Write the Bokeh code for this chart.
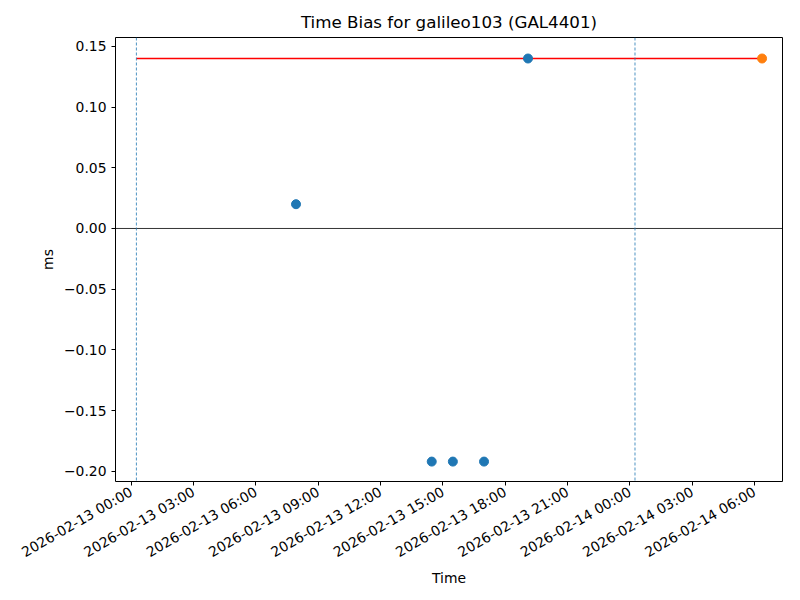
import math
import pandas as pd
from bokeh.plotting import figure
from bokeh.models import Span, FixedTicker, DatetimeTickFormatter, Range1d, ColumnDataSource
from bokeh.embed import file_html
from bokeh.resources import INLINE

# data
blue_times = ["2026-02-13 07:56", "2026-02-13 14:28", "2026-02-13 15:29", "2026-02-13 16:59", "2026-02-13 19:06"]
blue_values = [0.02, -0.192, -0.192, -0.192, 0.14]
orange_times = ["2026-02-14 06:22"]
orange_values = [0.14]
threshold = 0.14
threshold_start = "2026-02-13 00:15"
threshold_end = "2026-02-14 06:22"
vline_times = ["2026-02-13 00:15", "2026-02-14 00:15"]
x_ticks = ["2026-02-13 00:00", "2026-02-13 03:00", "2026-02-13 06:00", "2026-02-13 09:00",
           "2026-02-13 12:00", "2026-02-13 15:00", "2026-02-13 18:00", "2026-02-13 21:00",
           "2026-02-14 00:00", "2026-02-14 03:00", "2026-02-14 06:00"]
y_ticks = [-0.20, -0.15, -0.10, -0.05, 0.00, 0.05, 0.10, 0.15]
x_limits = ["2026-02-12 23:14:40", "2026-02-14 07:21"]
y_limits = [-0.2084, 0.1573]

def ms(t):
    return pd.Timestamp(t).value / 1e6

FONT = "DejaVu Sans"

p = figure(x_axis_type="datetime", output_backend="svg", toolbar_location=None,
           frame_width=667, frame_height=444, min_border_left=115, min_border_right=10,
           min_border_top=37, min_border_bottom=110,
           x_range=Range1d(ms(x_limits[0]), ms(x_limits[1])),
           y_range=Range1d(y_limits[0], y_limits[1]),
           title="Time Bias for galileo103 (GAL4401)")

p.title.text_font = FONT
p.title.text_font_size = "16.7px"
p.title.text_font_style = "normal"
p.title.align = "center"
p.title.text_color = "black"
p.title.standoff = 12

p.xgrid.visible = False
p.ygrid.visible = False
p.outline_line_color = "black"
p.outline_line_width = 1
p.outline_line_alpha = 1

for ax in (p.xaxis, p.yaxis):
    ax.axis_line_color = None
    ax.major_tick_out = 4
    ax.major_tick_in = 0
    ax.minor_tick_line_color = None
    ax.major_tick_line_color = "black"
    ax.major_label_text_font = FONT
    ax.major_label_text_font_size = "13.9px"
    ax.major_label_text_color = "black"
    ax.axis_label_text_font = FONT
    ax.axis_label_text_font_size = "13.9px"
    ax.axis_label_text_font_style = "normal"
    ax.axis_label_text_color = "black"

p.xaxis.axis_label = "Time"
p.xaxis.axis_label_standoff = 0
p.yaxis.axis_label = "ms"
p.xaxis.ticker = FixedTicker(ticks=[ms(t) for t in x_ticks])
fmt = "%Y-%m-%d %H:%M"
p.xaxis.formatter = DatetimeTickFormatter(microseconds=fmt, milliseconds=fmt, seconds=fmt, minsec=fmt,
                                          minutes=fmt, hourmin=fmt, hours=fmt, days=fmt, months=fmt, years=fmt)
p.xaxis.major_label_orientation = math.pi / 6
p.yaxis.ticker = FixedTicker(ticks=y_ticks)
p.yaxis.major_label_overrides = {v: (f"{v:.2f}".replace("-", "\u2212")) for v in y_ticks}

# zero line
p.add_layout(Span(location=0, dimension="width", line_color="black", line_width=0.8))
# vertical dashed lines
for t in vline_times:
    p.add_layout(Span(location=ms(t), dimension="height", line_color="#1f77b4",
                      line_width=0.8, line_dash="3 2"))

# threshold line
p.line(x=[ms(threshold_start), ms(threshold_end)], y=[threshold, threshold], line_color="red", line_width=1.5)

src_b = ColumnDataSource(dict(x=[ms(t) for t in blue_times], y=blue_values))
src_o = ColumnDataSource(dict(x=[ms(t) for t in orange_times], y=orange_values))
p.scatter("x", "y", source=src_b, size=9, fill_color="#1f77b4", line_color="#1f77b4")
p.scatter("x", "y", source=src_o, size=9, fill_color="#ff7f0e", line_color="#ff7f0e")

open("out.html", "w").write(file_html(p, INLINE))
